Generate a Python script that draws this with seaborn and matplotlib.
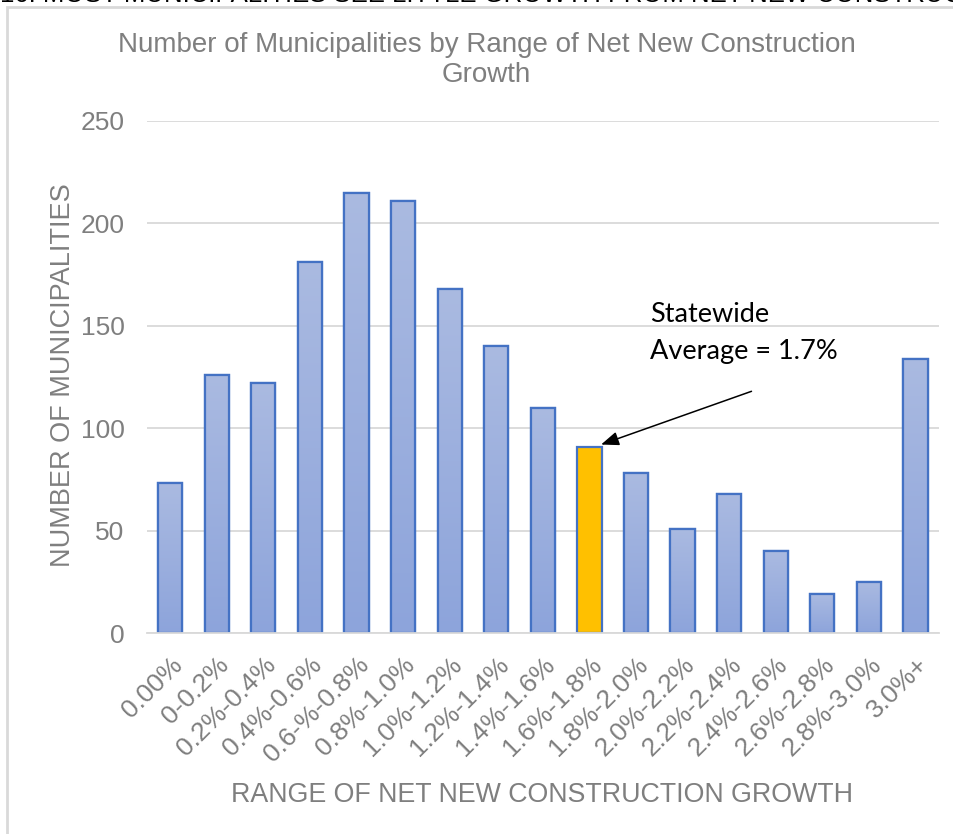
import numpy as np
import pandas as pd
import matplotlib
matplotlib.use("Agg")
import matplotlib.pyplot as plt
import seaborn as sns
from matplotlib.colors import LinearSegmentedColormap
from matplotlib.patches import Rectangle

categories = ["0.00%", "0-0.2%", "0.2%-0.4%", "0.4%-0.6%", "0.6-%-0.8%", "0.8%-1.0%",
              "1.0%-1.2%", "1.2%-1.4%", "1.4%-1.6%", "1.6%-1.8%", "1.8%-2.0%",
              "2.0%-2.2%", "2.2%-2.4%", "2.4%-2.6%", "2.6%-2.8%", "2.8%-3.0%", "3.0%+"]
counts = [73, 126, 122, 181, 215, 211, 168, 140, 110, 91, 78, 51, 68, 40, 19, 25, 134]
highlight = "1.6%-1.8%"
yticks = [0, 50, 100, 150, 200, 250]

title = "Number of Municipalities by Range of Net New Construction\nGrowth"
ylabel = "NUMBER OF MUNICIPALITIES"
xlabel = "RANGE OF NET NEW CONSTRUCTION GROWTH"
note = "Statewide\nAverage = 1.7%"
header = "16. MOST MUNICIPALITIES SEE LITTLE GROWTH FROM NET NEW CONSTRUCTION"

sns.set_theme(style="white")
plt.rcParams['font.family'] = ['Liberation Sans', 'DejaVu Sans']

df = pd.DataFrame({"cat": categories, "n": counts})
palette = {c: ("#FFC000" if c == highlight else "#9CAFDE") for c in categories}

fig = plt.figure(figsize=(9.54, 8.34), dpi=100)
ax = fig.add_axes([0.154, 0.241, 0.830, 0.614])

sns.barplot(data=df, x="cat", y="n", hue="cat", palette=palette, legend=False,
            saturation=1, width=0.52, edgecolor="#4472C4", linewidth=1.6, ax=ax, zorder=3)

# gradient fill for blue bars
cmap = LinearSegmentedColormap.from_list("g", ["#8DA4DB", "#AABAE1"])
grad = np.linspace(0, 1, 256).reshape(-1, 1)
for p, c in zip(ax.patches, categories):
    if c == highlight:
        continue
    x0, y0 = p.get_x(), p.get_y()
    w, h = p.get_width(), p.get_height()
    im = ax.imshow(grad, cmap=cmap, aspect="auto", origin="lower",
                   extent=[x0, x0 + w, y0, y0 + h], zorder=3.5)
    im.set_clip_path(p)
    edge = Rectangle((x0, y0), w, h, fill=False, edgecolor="#4472C4",
                     linewidth=1.6, zorder=4)
    ax.add_patch(edge)

ax.set_xlim(-0.5, len(categories) - 0.5)
ax.set_ylim(0, 250)
ax.set_yticks(yticks)
ax.yaxis.grid(True, color="#D9D9D9", linewidth=1.3, zorder=0)
ax.set_axisbelow(True)
for s in ["top", "right", "left"]:
    ax.spines[s].set_visible(False)
ax.spines["bottom"].set_color("#D9D9D9")
ax.spines["bottom"].set_linewidth(1.3)
ax.spines["bottom"].set_zorder(5)

ax.tick_params(axis="y", labelsize=19, colors="#7F7F7F", length=0, pad=16)
ax.tick_params(axis="x", labelsize=19, colors="#7F7F7F", length=0, pad=14)
ax.set_xticks(range(len(categories)))
ax.set_xticklabels(categories, rotation=45, ha="right", rotation_mode="anchor", color="#7F7F7F")

ax.set_ylabel(ylabel, fontsize=19.5, color="#7F7F7F")
ax.set_xlabel(xlabel, fontsize=19.3, color="#7F7F7F")
ax.xaxis.set_label_coords(0.499, -0.29)
ax.yaxis.set_label_coords(-0.09, 0.503)

fig.text(0.51, 0.928, title, ha="center", va="center", fontsize=20, color="#7F7F7F",
         linespacing=1.2)

ax.annotate("", xy=(9.25, 92), xytext=(12.48, 118),
            arrowprops=dict(arrowstyle="-|>,head_length=0.9,head_width=0.35",
                            color="black", lw=1.1, shrinkA=0, shrinkB=0), zorder=6)
ax.text(10.3, 161.5, note, ha="left", va="top", fontsize=19.5, color="black",
        family=["Lato", "DejaVu Sans"], linespacing=1.6, zorder=6)

# chart frame and cut-off heading
fig.add_artist(Rectangle((7 / 954, -0.1), 1.2, 1 - 7 / 834 + 0.1, transform=fig.transFigure,
                         fill=False, edgecolor="#D9D9D9", linewidth=2))
fig.text(0.0, 1.006, header, ha="left", va="center", fontsize=18.5, color="black")

fig.savefig("out.png", dpi=100)
